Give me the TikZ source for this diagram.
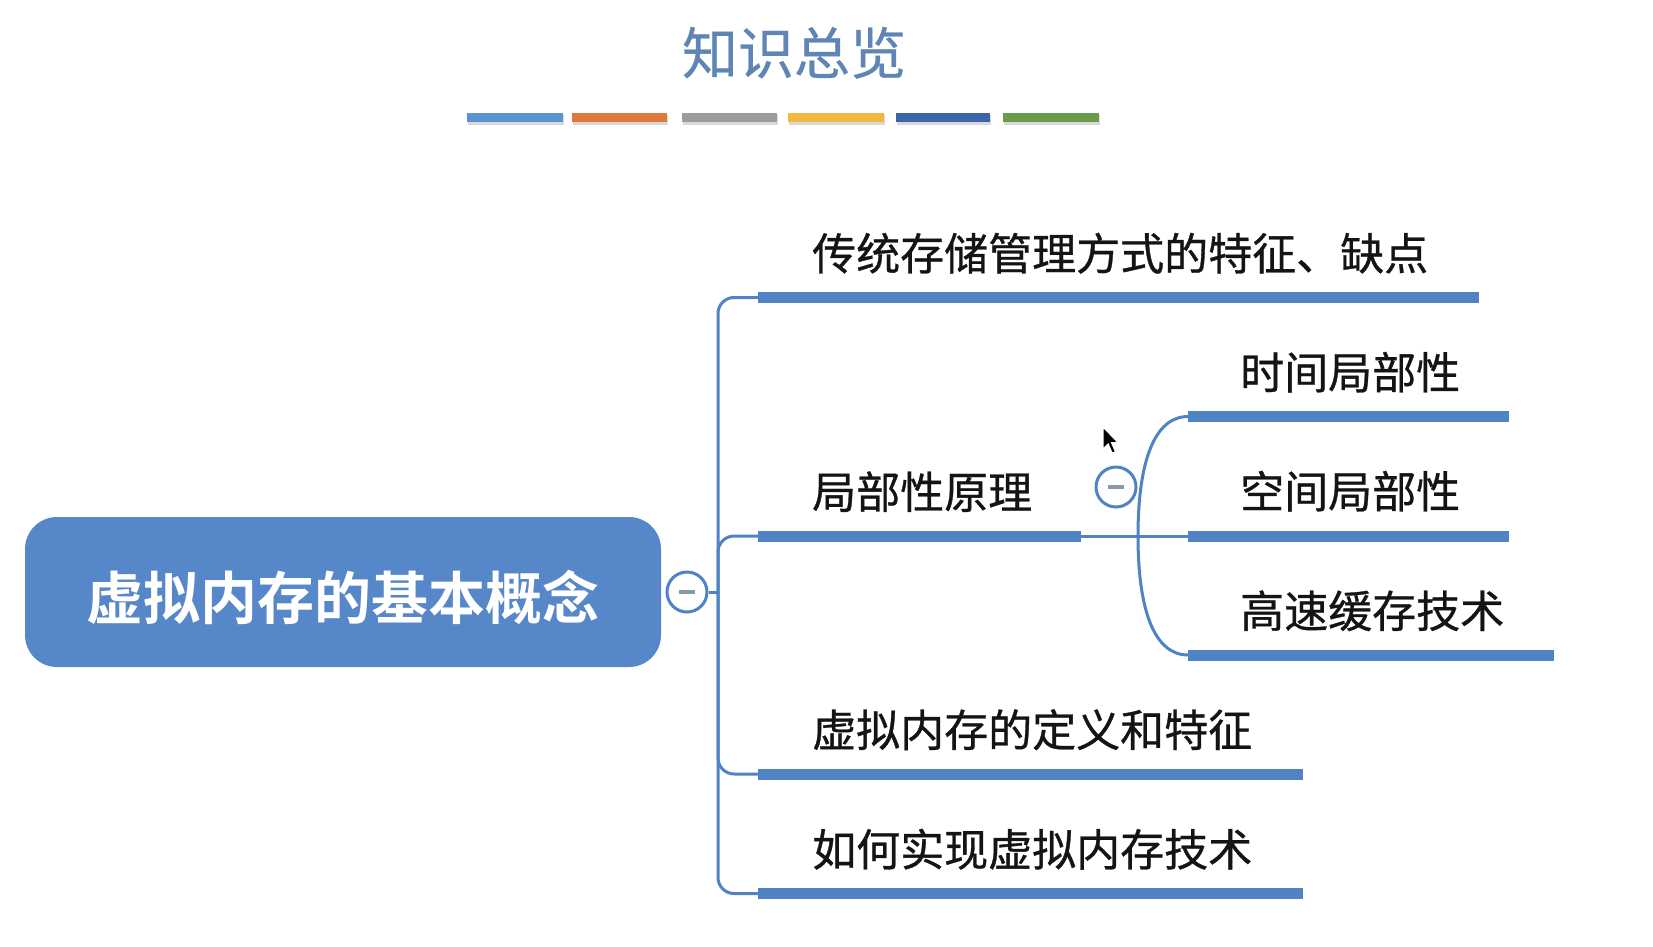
\documentclass[tikz,border=0pt]{standalone}
\usepackage{fontspec}
\newfontfamily\cjk[FakeBold=0.7]{Noto Sans CJK SC}
\newfontfamily\cjktitle[FakeBold=0.5]{Noto Sans CJK SC}
\newfontfamily\cjkbold{Noto Sans CJK SC Bold}
\definecolor{branch}{HTML}{5083C4}
\definecolor{boxfill}{HTML}{5687C8}
\definecolor{titleblue}{HTML}{5F84B6}
\definecolor{cA}{HTML}{5A93CF}
\definecolor{cB}{HTML}{E0773A}
\definecolor{cC}{HTML}{9C9C9C}
\definecolor{cD}{HTML}{F3B744}
\definecolor{cE}{HTML}{3D63AA}
\definecolor{cF}{HTML}{6B9A4A}
\definecolor{minusgrey}{HTML}{8C98AA}
\begin{document}
\begin{tikzpicture}[x=1pt,y=-1pt,
  lab/.style={font=\cjk\fontsize{44}{50}\selectfont, text=black!92, inner sep=0pt, anchor=base west},
  ubar/.style={branch, line width=11pt},
  thin/.style={branch, line width=3pt},
  toggle/.style={circle, draw=branch, line width=3pt, fill=white, minimum size=40pt, inner sep=0pt},
  minus/.style={minusgrey, line width=4.5pt},
]
\useasboundingbox (0,0) rectangle (1653,946);
\fill[white] (0,0) rectangle (1653,946);

% title
\node[font=\cjktitle\fontsize{56}{60}\selectfont, text=titleblue, inner sep=0pt, anchor=base] (title) at (794,74) {知识总览};

% colour bars
\foreach \a/\b/\c [count=\i] in {467/563/cA, 572/667/cB, 682/777/cC, 788/884/cD, 896/990/cE, 1003/1099/cF}{
  \fill[black!15] (\a+1,115) rectangle (\b+1,125);
  \fill[\c] (\a,112.5) rectangle (\b,122);
}

% root
\node[draw=none, fill=boxfill, rounded corners=32pt, minimum width=636pt, minimum height=150pt, inner sep=0pt] (root) at (343,592) {};
\node[font=\cjkbold\fontsize{57}{60}\selectfont, text=white, inner sep=0pt, anchor=base] (roottext) at (343,619) {虚拟内存的基本概念};

% trunk coordinates
\coordinate (j0) at (718,592);
\coordinate (b1s) at (758,297.5);
\coordinate (b1e) at (1479,297.5);
\coordinate (b2s) at (758,536);
\coordinate (b2e) at (1081,536);
\coordinate (b3s) at (758,774);
\coordinate (b3e) at (1303,774);
\coordinate (b4s) at (758,893.5);
\coordinate (b4e) at (1303,893.5);

\node[toggle] (t1) at (687,592) {};
\draw[minus] (679,592) -- (695,592);
\draw[thin] (t1.east) -- (j0);
\draw[thin, rounded corners=16pt] (j0) -- (718,297.5) -- (b1s);
\draw[thin, rounded corners=16pt] (j0) -- (718,536) -- (b2s);
\draw[thin, rounded corners=16pt] (j0) -- (718,774) -- (b3s);
\draw[thin, rounded corners=16pt] (j0) -- (718,893.5) -- (b4s);

\draw[ubar] (b1s) -- (b1e);
\draw[ubar] (b2s) -- (b2e);
\draw[ubar] (b3s) -- (b3e);
\draw[ubar] (b4s) -- (b4e);

\node[lab] (l1) at (812,270) {传统存储管理方式的特征、缺点};
\node[lab] (l2) at (812,508.5) {局部性原理};
\node[lab] (l3) at (812,746.5) {虚拟内存的定义和特征};
\node[lab] (l4) at (812,866) {如何实现虚拟内存技术};

% sub branches
\coordinate (j1) at (1138,536);
\coordinate (s1s) at (1188,416.5);
\coordinate (s1e) at (1509,416.5);
\coordinate (s2s) at (1188,536);
\coordinate (s2e) at (1509,536);
\coordinate (s3s) at (1188,655);
\coordinate (s3e) at (1554,655);

\draw[thin] (b2e) -- (s2s);
\draw[thin] (j1) .. controls (1138,460) and (1155,416.5) .. (s1s);
\draw[thin] (j1) .. controls (1138,612) and (1155,655) .. (s3s);

\draw[ubar] (s1s) -- (s1e);
\draw[ubar] (s2s) -- (s2e);
\draw[ubar] (s3s) -- (s3e);

\node[toggle] (t2) at (1116,487) {};
\draw[minus] (1108,487) -- (1124,487);

\node[lab] (s1) at (1240,389) {时间局部性};
\node[lab] (s2) at (1240,508) {空间局部性};
\node[lab] (s3) at (1240,627.5) {高速缓存技术};

% mouse pointer
\filldraw[fill=black, draw=white, line width=1pt, shift={(1103,427)}, scale=1.3]
  (0,0) -- (0,17) -- (4,13) -- (7,20) -- (9.5,19) -- (6.5,12) -- (11.5,12) -- cycle;
\end{tikzpicture}
\end{document}
